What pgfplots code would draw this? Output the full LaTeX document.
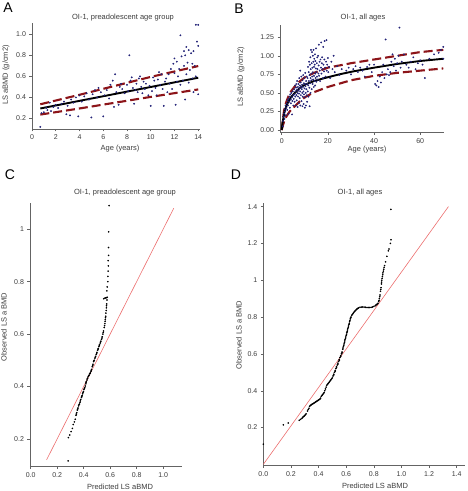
\documentclass[border=0pt]{standalone}
\usepackage{pgfplots}
\pgfplotsset{compat=1.18}
\usepackage{fontspec}
\setmainfont{Liberation Sans}
\definecolor{navy}{RGB}{35,35,120}
\definecolor{dred}{RGB}{140,20,25}
\definecolor{lred}{RGB}{236,110,110}
\definecolor{axgray}{RGB}{100,100,100}
\definecolor{txt}{RGB}{60,60,60}

\pgfplotsset{
 panel/.style={scale only axis, anchor=south west,
   axis x line*=bottom, axis y line*=left,
   axis line style={axgray,-, line width=0.6pt},
   tick align=outside, major tick length=2.5pt,
   tick style={axgray, line width=0.5pt},
   every tick label/.append style={font=\fontsize{7}{8}\selectfont, text=txt},
   /pgf/number format/assume math mode=true,
   xtick pos=bottom, ytick pos=left},
 scat/.style={only marks, mark=*, mark size=0.7pt, navy, mark options={draw=navy, fill=navy}},
 band/.style={dred, line width=2.1pt, dash pattern=on 9pt off 4pt},
 fit/.style={black, line width=1.9pt},
 qq/.style={only marks, mark=*, mark size=0.6pt, black},
}

\begin{document}
\begin{tikzpicture}[x=1pt,y=1pt]
\useasboundingbox (0,0) rectangle (467,491);

% ---------------- Panel A ----------------
\begin{axis}[panel, at={(32pt,362pt)}, width=168pt, height=106.3pt,
  xmin=0, xmax=14.15, ymin=0.1, ymax=1.11,
  xtick={0,2,...,14}, ytick={0.2,0.4,0.6,0.8,1.0},
  yticklabel style={/pgf/number format/.cd, fixed, fixed zerofill, precision=1}]
\addplot[scat] coordinates {
(0.7,0.12)(0.8,0.25)(1.0,0.26)(1.2,0.30)(1.3,0.28)(1.5,0.35)(1.6,0.27)(1.8,0.31)(2.0,0.33)(2.2,0.30)
(2.5,0.34)(2.7,0.36)(2.9,0.24)(3.0,0.32)(3.2,0.23)(3.3,0.38)(3.5,0.35)(3.7,0.40)(3.9,0.22)(4.0,0.42)(4.2,0.36)
(4.4,0.41)(4.6,0.44)(4.8,0.38)(5.0,0.21)(5.1,0.43)(5.3,0.47)(5.5,0.40)(5.6,0.49)(5.8,0.45)(6.0,0.22)(6.1,0.42)
(6.3,0.47)(6.5,0.39)(6.6,0.52)(6.8,0.56)(6.9,0.31)(7.0,0.62)(7.1,0.45)(7.3,0.33)(7.4,0.50)(7.5,0.53)(7.6,0.48)(7.8,0.44)(8.0,0.52)(8.1,0.46)(8.2,0.80)
(8.3,0.56)(8.4,0.59)(8.5,0.49)(8.6,0.34)(8.7,0.47)(8.8,0.53)(8.9,0.45)(9.0,0.58)(9.1,0.60)(9.2,0.50)(9.3,0.44)(9.4,0.55)(9.5,0.48)(9.6,0.53)(9.8,0.42)(9.9,0.51)
(10.0,0.32)(10.1,0.46)(10.2,0.59)(10.3,0.56)(10.4,0.49)(10.5,0.42)(10.6,0.57)(10.7,0.64)(10.8,0.52)(10.9,0.62)(11.0,0.48)(11.1,0.32)(11.2,0.55)(11.3,0.58)(11.4,0.45)(11.5,0.62)(11.6,0.53)(11.7,0.67)(11.8,0.48)(11.9,0.72)(12.0,0.63)(12.0,0.77)(12.1,0.33)(12.2,0.74)(12.2,0.55)
(12.3,0.60)(12.4,0.67)(12.5,0.99)(12.5,0.52)(12.6,0.79)(12.7,0.56)(12.8,0.84)(12.8,0.70)(12.9,0.38)(12.9,0.80)(13.0,0.88)(13.0,0.62)(13.1,0.73)(13.2,0.85)(13.2,0.54)(13.3,0.66)(13.4,0.82)(13.5,0.72)(13.5,0.58)(13.6,0.84)(13.7,0.70)(13.8,1.09)(13.8,0.60)(13.9,0.93)(14.0,1.09)(14.0,0.89)(14.0,0.43)(13.6,0.45)
};
\addplot[band] coordinates {(0.7,0.335)(4,0.425)(7,0.51)(10,0.595)(14,0.698)};
\addplot[band] coordinates {(0.7,0.237)(4,0.295)(7,0.35)(10,0.405)(14,0.476)};
\addplot[fit] coordinates {(0.7,0.295)(14,0.587)};
\end{axis}

% ---------------- Panel B ----------------
\begin{axis}[panel, at={(280pt,358.7pt)}, width=164pt, height=107.3pt,
  xmin=-0.74, xmax=70.3, ymin=-0.031, ymax=1.415,
  xtick={0,20,40,60}, ytick={0,0.25,0.5,0.75,1.0,1.25},
  yticklabel style={/pgf/number format/.cd, fixed, fixed zerofill, precision=2}]
\addplot[scat] coordinates {
(0.5,0.05)(0.6,0.12)(0.8,0.18)(1,0.22)(1.2,0.15)(1.3,0.28)(1.5,0.25)(1.7,0.33)(1.8,0.20)(2,0.30)(2.2,0.36)(2.4,0.27)(2.5,0.40)(2.7,0.33)(2.9,0.42)(3,0.22)(3.2,0.38)(3.4,0.45)(3.5,0.30)(3.7,0.48)(3.9,0.41)(4.0,0.36)(4.2,0.50)(4.4,0.44)(4.5,0.21)(4.6,0.39)(4.8,0.52)(5.0,0.47)(5.0,0.33)(5.2,0.42)
(5.4,0.55)(5.5,0.48)(5.6,0.38)(5.8,0.60)(5.9,0.45)(6.0,0.52)(6.1,0.33)(6.2,0.57)(6.3,0.62)(6.4,0.47)(6.5,0.40)(6.6,0.54)(6.7,0.66)(6.8,0.50)(6.9,0.31)(7.0,0.58)(7.1,0.45)(7.2,0.62)(7.3,0.53)(7.4,0.36)(7.5,0.49)(7.6,0.70)(7.7,0.56)(7.8,0.43)(7.9,0.60)(8.0,0.80)(8.0,0.52)(8.1,0.33)(8.2,0.64)(8.3,0.47)(8.4,0.58)(8.5,0.72)(8.6,0.39)(8.7,0.55)(8.8,0.61)(8.9,0.50)(9.0,0.32)(9.0,0.67)(9.1,0.45)(9.2,0.58)(9.3,0.74)(9.4,0.52)(9.5,0.35)(9.6,0.63)(9.7,0.48)(9.8,0.70)(9.9,0.56)(10.0,0.30)(10.0,0.62)(10.1,0.44)(10.2,0.77)(10.3,0.59)(10.4,0.50)(10.5,0.33)(10.6,0.66)(10.7,0.55)(10.8,0.72)(10.9,0.47)(11.0,0.62)(11.0,0.38)
(11.2,0.70)(11.3,0.52)(11.4,0.85)(11.5,0.60)(11.6,0.45)(11.7,0.78)(11.8,0.66)(11.9,0.92)(12.0,0.57)(12.0,0.74)(12.1,0.32)(12.2,0.88)(12.3,0.63)(12.4,0.98)(12.5,0.70)(12.5,0.50)(12.6,0.82)(12.7,1.08)(12.8,0.67)(12.9,0.76)(13.0,0.90)(13.0,0.55)(13.1,1.05)(13.2,0.72)(13.3,0.84)(13.4,0.62)(13.5,1.00)(13.5,0.78)(13.6,0.68)(13.7,0.92)(13.8,1.08)(13.9,0.58)(14.0,0.85)(14.0,0.73)(14.1,0.96)(14.2,0.66)(14.3,0.88)(14.4,1.02)(14.5,0.76)(14.5,0.60)(14.6,0.93)(14.7,0.70)(14.8,0.83)(14.9,1.10)(15.0,0.78)(15.0,0.65)(15.2,0.90)(15.3,0.72)(15.4,0.98)(15.5,0.82)(15.6,0.68)(15.8,1.00)(15.9,0.76)(16.0,0.87)(16.1,1.15)(16.2,0.73)(16.4,0.92)(16.5,0.80)(16.6,0.66)(16.8,0.95)(17.0,0.84)(17.1,1.18)(17.2,0.76)(17.4,0.90)(17.5,0.98)(17.7,0.82)(17.9,0.70)(18.0,1.12)(18.1,0.88)(18.3,0.79)(18.5,0.95)(18.6,1.20)(18.8,0.84)(19.0,0.72)(19.2,0.92)(19.4,1.21)(19.5,0.80)(19.7,0.88)(20.0,0.97)(20.2,0.78)(20.5,0.85)(21.0,0.70)(21.5,0.92)(22.0,0.82)(22.5,1.00)(23.0,0.78)(24.0,0.86)(25,0.74)
(26,0.82)(28,0.80)(29,0.84)(30,0.75)(31,0.82)(32,0.86)(33,0.78)(34,0.84)(35,0.80)(36,0.72)(37,0.85)(38,0.88)(39,0.78)(40,0.88)(40.5,0.62)(41,0.60)(41.5,0.66)(42,0.58)(42.5,0.72)(43,0.64)(43.5,0.78)(44,0.88)(44.5,0.70)(45,1.22)(45.5,0.75)(46,0.82)(46.5,0.74)(47,0.78)(47.5,0.92)(48,1.02)(48.5,0.86)(49,0.96)(49.5,0.80)(50,0.90)(50.5,1.00)(51,1.38)(51.5,0.84)(52,0.92)(53,1.02)(54,0.88)(55,0.84)(56,0.92)(57,0.98)(58,0.82)(59,0.90)(60,0.94)(61,0.88)(62,0.70)(64,0.96)(66,1.02)(68,1.04)(69,1.08)(70,1.12)(70,0.96)
};
\addplot[band] coordinates {(0,0)(0.5,0.14)(1,0.26)(2,0.38)(3,0.46)(4,0.52)(6,0.60)(8,0.66)(10,0.71)(14,0.77)(20,0.84)(30,0.90)(40,0.95)(50,1.00)(60,1.05)(70,1.08)};
\addplot[band] coordinates {(0,0)(0.5,0.06)(1,0.11)(2,0.18)(3,0.23)(4,0.27)(6,0.33)(8,0.39)(10,0.44)(14,0.51)(20,0.58)(30,0.67)(40,0.73)(50,0.77)(60,0.80)(70,0.83)};
\addplot[fit] coordinates {(0,0)(0.3,0.08)(0.7,0.16)(1.3,0.26)(2,0.32)(3,0.39)(4.2,0.45)(6,0.51)(8,0.57)(10,0.61)(14,0.66)(18.6,0.70)(25,0.75)(31,0.79)(40,0.84)(50,0.89)(60,0.93)(70,0.96)};
\end{axis}

% ---------------- Panel C ----------------
\begin{axis}[panel, at={(30pt,24.3pt)}, width=151.7pt, height=263.7pt,
  xmin=-0.005, xmax=1.14, ymin=0.094, ymax=1.10,
  xtick={0,0.2,0.4,0.6,0.8,1.0}, ytick={0.2,0.4,0.6,0.8,1},
  xticklabel style={/pgf/number format/.cd, fixed, fixed zerofill, precision=1},
  yticklabels={0.2,0.4,0.6,0.8,1}]
\addplot[lred, line width=0.6pt] coordinates {(0.12,0.12)(1.08,1.08)};
\addplot[qq] coordinates {
(0.283,0.116)(0.285,0.205)(0.295,0.215)(0.305,0.228)(0.315,0.24)(0.322,0.255)(0.33,0.265)(0.336,0.275)(0.342,0.29)(0.348,0.30)(0.352,0.31)(0.358,0.318)(0.362,0.326)(0.368,0.333)(0.372,0.34)(0.378,0.35)(0.383,0.358)(0.388,0.365)(0.392,0.372)(0.398,0.38)(0.402,0.388)(0.408,0.395)(0.412,0.402)(0.416,0.41)(0.42,0.418)(0.425,0.425)(0.43,0.432)(0.435,0.438)(0.44,0.443)(0.445,0.448)(0.45,0.452)(0.455,0.458)(0.46,0.465)(0.465,0.475)(0.47,0.485)(0.475,0.495)(0.48,0.50)(0.485,0.508)(0.49,0.515)(0.495,0.522)(0.50,0.53)(0.505,0.538)(0.51,0.545)(0.515,0.552)(0.52,0.56)(0.525,0.566)(0.53,0.573)(0.535,0.58)(0.54,0.59)(0.545,0.60)(0.55,0.612)(0.555,0.625)(0.56,0.64)(0.563,0.655)(0.566,0.668)(0.568,0.68)(0.572,0.70)(0.574,0.715)(0.576,0.73)(0.578,0.74)(0.575,0.765)(0.578,0.78)(0.582,0.80)(0.583,0.82)(0.585,0.84)(0.586,0.86)(0.585,0.88)(0.588,0.90)(0.588,0.93)(0.589,0.99)(0.592,1.09)
(0.345,0.295)(0.355,0.314)(0.365,0.33)(0.375,0.345)(0.385,0.362)(0.395,0.376)(0.405,0.392)(0.418,0.414)(0.428,0.43)(0.438,0.441)(0.448,0.45)(0.458,0.462)(0.468,0.48)(0.478,0.498)(0.488,0.512)(0.498,0.526)(0.508,0.542)(0.518,0.556)(0.528,0.57)(0.538,0.585)(0.548,0.606)(0.558,0.632)(0.562,0.648)(0.565,0.662)(0.57,0.69)(0.573,0.708)(0.552,0.735)(0.56,0.737)(0.566,0.738)(0.571,0.739)
};
\end{axis}

% ---------------- Panel D ----------------
\begin{axis}[panel, at={(263.3pt,25.3pt)}, width=201.7pt, height=262.4pt,
  xmin=0, xmax=1.46, ymin=-0.007, ymax=1.418,
  xtick={0,0.2,0.4,0.6,0.8,1.0,1.2,1.4}, ytick={0.2,0.4,0.6,0.8,1,1.2,1.4},
  xticklabel style={/pgf/number format/.cd, fixed, fixed zerofill, precision=1},
  yticklabels={0.2,0.4,0.6,0.8,1,1.2,1.4}]
\addplot[lred, line width=0.6pt] coordinates {(0,0)(1.34,1.40)};
\addplot[qq] coordinates {
(0.00,0.11)(0.145,0.215)(0.18,0.225)(0.26,0.24)(0.27,0.245)(0.28,0.25)(0.29,0.26)(0.30,0.265)(0.31,0.275)(0.32,0.29)(0.33,0.305)(0.335,0.315)(0.34,0.32)(0.35,0.325)(0.36,0.33)(0.37,0.335)(0.38,0.34)(0.39,0.345)(0.40,0.35)(0.41,0.355)(0.415,0.36)(0.42,0.37)(0.43,0.38)(0.44,0.39)(0.445,0.40)(0.45,0.41)(0.455,0.42)(0.46,0.43)(0.47,0.44)(0.48,0.45)(0.49,0.46)(0.50,0.47)(0.505,0.48)(0.51,0.49)(0.515,0.50)(0.52,0.51)(0.525,0.52)(0.53,0.53)(0.535,0.54)(0.54,0.55)(0.545,0.56)(0.55,0.57)(0.555,0.58)(0.56,0.59)(0.565,0.60)(0.57,0.61)(0.575,0.625)(0.58,0.64)(0.585,0.655)(0.59,0.67)(0.595,0.685)(0.60,0.70)(0.605,0.715)(0.61,0.73)(0.615,0.745)(0.62,0.76)(0.625,0.775)(0.63,0.79)(0.635,0.80)(0.64,0.81)(0.65,0.82)(0.66,0.83)(0.67,0.838)(0.68,0.845)(0.69,0.85)(0.70,0.853)(0.72,0.855)(0.74,0.853)(0.76,0.852)(0.78,0.853)(0.80,0.858)(0.81,0.862)(0.82,0.868)(0.83,0.875)(0.835,0.885)(0.84,0.90)(0.845,0.92)(0.848,0.94)(0.852,0.96)(0.855,0.98)(0.858,1.00)(0.862,1.02)(0.866,1.04)(0.872,1.06)(0.878,1.08)(0.885,1.10)(0.895,1.13)(0.905,1.16)(0.91,1.17)(0.92,1.20)(0.925,1.22)(0.924,1.385)
(0.285,0.255)(0.295,0.262)(0.305,0.27)(0.325,0.298)(0.345,0.322)(0.355,0.328)(0.365,0.332)(0.375,0.337)(0.385,0.342)(0.395,0.347)(0.405,0.352)(0.425,0.375)(0.435,0.385)(0.465,0.435)(0.475,0.445)(0.485,0.455)(0.495,0.465)(0.51,0.485)(0.52,0.505)(0.53,0.525)(0.54,0.545)(0.55,0.565)(0.56,0.585)(0.57,0.605)(0.577,0.632)(0.582,0.647)(0.587,0.662)(0.592,0.677)(0.597,0.692)(0.602,0.707)(0.607,0.722)(0.612,0.737)(0.617,0.752)(0.622,0.767)(0.627,0.782)(0.632,0.795)(0.645,0.815)(0.655,0.825)(0.665,0.834)(0.675,0.842)(0.685,0.848)(0.71,0.854)(0.73,0.854)(0.75,0.852)(0.77,0.852)(0.79,0.855)(0.815,0.865)(0.825,0.871)(0.838,0.89)(0.843,0.91)(0.85,0.95)(0.856,0.99)(0.86,1.01)(0.864,1.03)(0.869,1.05)(0.875,1.07)
};
\end{axis}

% ---------------- Text ----------------
\begin{scope}[every node/.style={text=txt, inner sep=0pt}]
\node[font=\fontsize{14}{16}\selectfont, text=black] at (8,483.5) {A};
\node[font=\fontsize{14}{16}\selectfont, text=black] at (239,482) {B};
\node[font=\fontsize{14}{16}\selectfont, text=black] at (10,316) {C};
\node[font=\fontsize{14}{16}\selectfont, text=black] at (236,316) {D};
\node[font=\fontsize{7.5}{9}\selectfont] at (123,473) {OI-1, preadolescent age group};
\node[font=\fontsize{7.5}{9}\selectfont] at (363,473) {OI-1, all ages};
\node[font=\fontsize{7.5}{9}\selectfont] at (125,298.3) {OI-1, preadolescent age group};
\node[font=\fontsize{7.5}{9}\selectfont] at (360,298.3) {OI-1, all ages};
\node[font=\fontsize{7.5}{9}\selectfont] at (120,342) {Age (years)};
\node[font=\fontsize{7.5}{9}\selectfont] at (367,341) {Age (years)};
\node[font=\fontsize{7.5}{9}\selectfont, rotate=90] at (6,416) {LS aBMD (g/cm2)};
\node[font=\fontsize{7.5}{9}\selectfont, rotate=90] at (241,414) {LS aBMD (g/cm2)};
\node[font=\fontsize{7.5}{9}\selectfont] at (120,4.5) {Predicted LS aBMD};
\node[font=\fontsize{7.5}{9}\selectfont] at (375,5) {Predicted LS aBMD};
\node[font=\fontsize{7.5}{9}\selectfont, rotate=90] at (4,164) {Observed LS a BMD};
\node[font=\fontsize{7.5}{9}\selectfont, rotate=90] at (239,156) {Observed LS a BMD};
\end{scope}
\end{tikzpicture}
\end{document}
